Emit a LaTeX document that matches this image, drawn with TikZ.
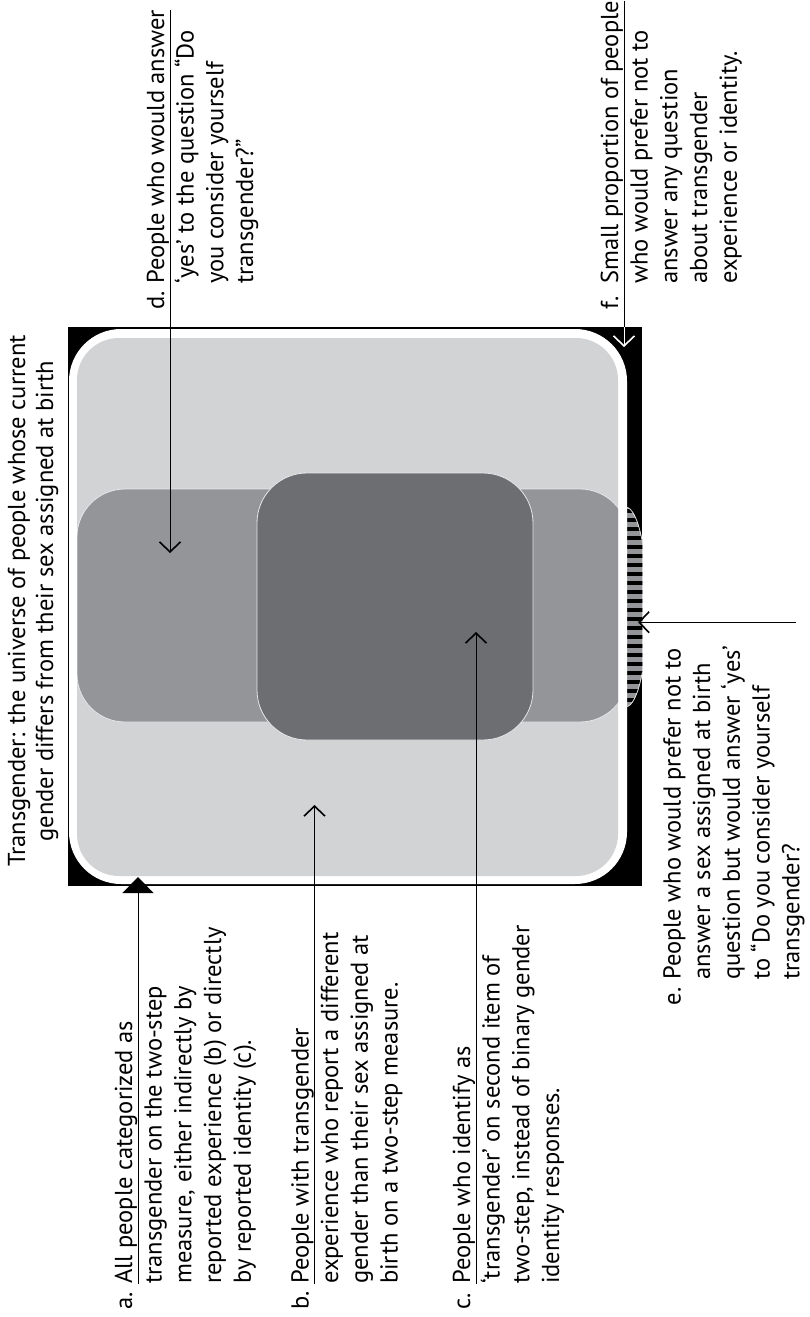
\documentclass[tikz,border=0pt]{standalone}
\usepackage{fontspec}
\setmainfont{PT Sans}
\usepackage{tikz}
\usetikzlibrary{arrows.meta}
\definecolor{regionColorA}{HTML}{D1D3D4}
\definecolor{regionColorB}{HTML}{939598}
\definecolor{regionColorC}{HTML}{6D6E71}
\definecolor{edgeColor}{HTML}{E6E7E8}
\newcommand\labellines[1]{\begin{tabular}[t]{@{}l@{}}#1\end{tabular}}
\def\textTitle{\begin{tabular}[t]{@{}c@{}}Transgender: the universe of people whose current\\
gender differs from their sex assigned at birth\end{tabular}}
\def\textA{\labellines{All people categorized as\\transgender on the two-step\\
measure, either indirectly by\\reported experience (b) or directly\\by reported identity (c).}}
\def\textB{\labellines{People with transgender\\experience who report a different\\
gender than their sex assigned at\\birth on a two-step measure.}}
\def\textC{\labellines{People who identify as\\‘transgender’ on second item of\\
two-step, instead of binary gender\\identity responses.}}
\def\textD{\labellines{People who would answer\\‘yes’ to the question “Do\\
you consider yourself\\transgender?”}}
\def\textE{\labellines{People who would prefer not to\\answer a sex assigned at birth\\
question but would answer ‘yes’\\to “Do you consider yourself\\transgender?}}
\def\textF{\labellines{Small proportion of people\\who would prefer not to\\
answer any question\\about transgender\\experience or identity.}}
\begin{document}
\begin{tikzpicture}[x=1bp,y=-1bp,
  >={Straight Barb[length=10bp,width=21bp,line width=1.6bp]},
  labeltext/.style={rotate=90, inner sep=0pt, font=\fontsize{24.5bp}{29.7bp}\selectfont},
  tagtext/.style={labeltext, anchor=base east},
  link/.style={line width=1bp},
  region/.style={draw=edgeColor, line width=0.8bp}]
\useasboundingbox (0,0) rectangle (809,1317);

% frame layer
\node[fill=black, inner sep=0pt, minimum width=574bp, minimum height=559bp,
  anchor=north west] (frame) at (68,327) {};

% hatched part outside the universe
\begin{scope}
\clip (frame.north west) rectangle (frame.south east);
\fill[regionColorB] (626,607) ellipse [x radius=22bp, y radius=100bp];
\clip (626,607) ellipse [x radius=22bp, y radius=100bp];
\foreach \y in {511,520,...,706}
  \draw[line width=4.5bp] (600,\y) -- (650,\y);
\draw[edgeColor, line width=1.4bp] (626,607) ellipse [x radius=22bp, y radius=100bp];
\end{scope}

% universe layer
\fill[white, rounded corners=52bp] (69,329) rectangle (627,884);
\fill[regionColorA, rounded corners=42bp] (77,338) rectangle (618,876);
\begin{scope}
\clip[rounded corners=42bp] (77,338) rectangle (618,876);
\filldraw[region, fill=regionColorB, rounded corners=48bp] (77,489) rectangle (628,722);
\end{scope}
\filldraw[region, fill=regionColorC, rounded corners=50bp] (257,473) rectangle (533,740);

% label layer
\node[labeltext, anchor=base, font=\fontsize{24.5bp}{28bp}\selectfont] (title) at (25,601) {\textTitle};
\node[labeltext, anchor=base west] (aText) at (132,1284) {\textA};
\node[tagtext] (aTag) at (aText.base west) {\makebox[25bp][l]{a.}};
\node[labeltext, anchor=base west] (bText) at (308.5,1284) {\textB};
\node[tagtext] (bTag) at (bText.base west) {\makebox[25bp][l]{b.}};
\node[labeltext, anchor=base west] (cText) at (470,1284) {\textC};
\node[tagtext] (cTag) at (cText.base west) {\makebox[25bp][l]{c.}};
\node[labeltext, anchor=base west] (dText) at (164,284) {\textD};
\node[tagtext] (dTag) at (dText.base west) {\makebox[25bp][l]{d.}};
\node[labeltext, anchor=base west] (eText) at (680.5,980) {\textE};
\node[tagtext] (eTag) at (eText.base west) {\makebox[25bp][l]{e.}};
\node[labeltext, anchor=base west] (fText) at (618,284) {\textF};
\node[tagtext] (fTag) at (fText.base west) {\makebox[25bp][l]{f.}};

% link layer
\coordinate (aTip) at (138,877);
\coordinate (bTip) at (314,805);
\coordinate (cTip) at (476,632);
\coordinate (dTip) at (170,553);
\coordinate (eTip) at (638,627);
\coordinate (fTip) at (624,347);
\coordinate (aFoot) at ([xshift=6bp]aText.base west);
\coordinate (bFoot) at ([xshift=6bp]bText.base west);
\coordinate (cFoot) at ([xshift=6bp]cText.base west);
\coordinate (dFoot) at ([xshift=6bp]dText.base east);
\coordinate (eFoot) at ([xshift=-12bp,yshift=23bp]eText.south east);
\coordinate (fFoot) at ([xshift=6bp]fText.base east);
\draw[link, -{Triangle[length=16bp,width=31bp]}] (aFoot) -- (aFoot |- aTip);
\draw[link, ->] (bFoot) -- (bFoot |- bTip);
\draw[link, ->] (cFoot) -- (cFoot |- cTip);
\draw[link, ->] (dFoot) -- (dFoot |- dTip);
\draw[link, ->] (eFoot) -- (eTip |- eFoot);
\draw[link] (fFoot) -- (fFoot |- frame.north);
\draw[link, white, ->] (fFoot |- frame.north) -- (fFoot |- fTip);
\end{tikzpicture}
\end{document}
